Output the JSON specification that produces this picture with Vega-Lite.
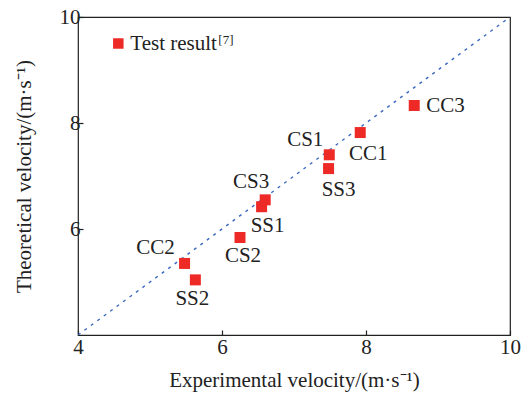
{
  "$schema": "https://vega.github.io/schema/vega-lite/v6.json",
  "width": 432,
  "height": 318,
  "autosize": {"type": "none"},
  "padding": {"left": 78, "top": 17, "right": 21, "bottom": 62},
  "config": {
    "font": "Liberation Serif",
    "view": {"stroke": "#222", "strokeWidth": 1.2},
    "axis": {
      "grid": false,
      "domain": false,
      "tickColor": "#222",
      "tickSize": -5,
      "tickWidth": 1.2,
      "labelFlush": false,
      "labelOverlap": false,
      "format": "d",
      "labelFont": "Liberation Serif",
      "labelFontSize": 21,
      "labelColor": "#222",
      "titleFont": "Liberation Serif",
      "titleFontSize": 21,
      "titleFontWeight": "normal",
      "titleColor": "#222"
    }
  },
  "datasets": {
    "pts": [
      {"label": "CC3", "exp": 8.67, "theo": 8.33},
      {"label": "CC1", "exp": 7.92, "theo": 7.82},
      {"label": "CS1", "exp": 7.49, "theo": 7.40},
      {"label": "SS3", "exp": 7.48, "theo": 7.14},
      {"label": "CS3", "exp": 6.60, "theo": 6.55},
      {"label": "SS1", "exp": 6.55, "theo": 6.42},
      {"label": "CS2", "exp": 6.25, "theo": 5.84},
      {"label": "CC2", "exp": 5.48, "theo": 5.35},
      {"label": "SS2", "exp": 5.63, "theo": 5.04}
    ],
    "diag": [{"exp": 4, "theo": 4}, {"exp": 10, "theo": 10}],
    "leg": [{"exp": 4.56, "theo": 9.5, "name": "Test result", "ref": "[7]"}]
  },
  "layer": [
    {
      "data": {"name": "diag"},
      "mark": {"type": "line", "color": "#3a68c0", "strokeWidth": 1.4, "strokeDash": [3, 5], "clip": true},
      "encoding": {
        "x": {"field": "exp", "type": "quantitative", "scale": {"domain": [4, 10], "nice": false}, "axis": {"values": [4, 6, 8, 10], "title": "Experimental velocity/(m·s⁻¹)", "labelPadding": 6, "titlePadding": 12}},
        "y": {"field": "theo", "type": "quantitative", "scale": {"domain": [4, 10], "nice": false}, "axis": {"values": [6, 8, 10], "title": "Theoretical velocity/(m·s⁻¹)", "labelPadding": 3, "titlePadding": 25}}
      }
    },
    {
      "data": {"name": "pts"},
      "mark": {"type": "square", "color": "#ee2a27", "opacity": 1, "size": 121, "filled": true},
      "encoding": {
        "x": {"field": "exp", "type": "quantitative"},
        "y": {"field": "theo", "type": "quantitative"}
      }
    },
    {
      "data": {"name": "pts"},
      "transform": [{"filter": "datum.label == 'CC3'"}],
      "mark": {"type": "text", "fontSize": 21, "color": "#222", "align": "left", "baseline": "middle", "dx": 12},
      "encoding": {"x": {"field": "exp", "type": "quantitative"}, "y": {"field": "theo", "type": "quantitative"}, "text": {"field": "label"}}
    },
    {
      "data": {"name": "pts"},
      "transform": [{"filter": "datum.label == 'CC1'"}],
      "mark": {"type": "text", "fontSize": 21, "color": "#222", "align": "center", "baseline": "middle", "dx": 8, "dy": 21},
      "encoding": {"x": {"field": "exp", "type": "quantitative"}, "y": {"field": "theo", "type": "quantitative"}, "text": {"field": "label"}}
    },
    {
      "data": {"name": "pts"},
      "transform": [{"filter": "datum.label == 'SS3'"}],
      "mark": {"type": "text", "fontSize": 21, "color": "#222", "align": "center", "baseline": "middle", "dx": 10, "dy": 21},
      "encoding": {"x": {"field": "exp", "type": "quantitative"}, "y": {"field": "theo", "type": "quantitative"}, "text": {"field": "label"}}
    },
    {
      "data": {"name": "pts"},
      "transform": [{"filter": "datum.label == 'SS1'"}],
      "mark": {"type": "text", "fontSize": 21, "color": "#222", "align": "center", "baseline": "middle", "dx": 6, "dy": 19},
      "encoding": {"x": {"field": "exp", "type": "quantitative"}, "y": {"field": "theo", "type": "quantitative"}, "text": {"field": "label"}}
    },
    {
      "data": {"name": "pts"},
      "transform": [{"filter": "datum.label == 'CS2'"}],
      "mark": {"type": "text", "fontSize": 21, "color": "#222", "align": "center", "baseline": "middle", "dx": 3, "dy": 19},
      "encoding": {"x": {"field": "exp", "type": "quantitative"}, "y": {"field": "theo", "type": "quantitative"}, "text": {"field": "label"}}
    },
    {
      "data": {"name": "pts"},
      "transform": [{"filter": "datum.label == 'SS2'"}],
      "mark": {"type": "text", "fontSize": 21, "color": "#222", "align": "center", "baseline": "middle", "dx": -3, "dy": 19},
      "encoding": {"x": {"field": "exp", "type": "quantitative"}, "y": {"field": "theo", "type": "quantitative"}, "text": {"field": "label"}}
    },
    {
      "data": {"name": "pts"},
      "transform": [{"filter": "datum.label == 'CS1'"}],
      "mark": {"type": "text", "fontSize": 21, "color": "#222", "align": "center", "baseline": "middle", "dx": -24, "dy": -15},
      "encoding": {"x": {"field": "exp", "type": "quantitative"}, "y": {"field": "theo", "type": "quantitative"}, "text": {"field": "label"}}
    },
    {
      "data": {"name": "pts"},
      "transform": [{"filter": "datum.label == 'CS3'"}],
      "mark": {"type": "text", "fontSize": 21, "color": "#222", "align": "center", "baseline": "middle", "dx": -14, "dy": -18},
      "encoding": {"x": {"field": "exp", "type": "quantitative"}, "y": {"field": "theo", "type": "quantitative"}, "text": {"field": "label"}}
    },
    {
      "data": {"name": "pts"},
      "transform": [{"filter": "datum.label == 'CC2'"}],
      "mark": {"type": "text", "fontSize": 21, "color": "#222", "align": "center", "baseline": "middle", "dx": -29, "dy": -15},
      "encoding": {"x": {"field": "exp", "type": "quantitative"}, "y": {"field": "theo", "type": "quantitative"}, "text": {"field": "label"}}
    },
    {
      "data": {"name": "leg"},
      "mark": {"type": "square", "color": "#ee2a27", "opacity": 1, "size": 110, "filled": true},
      "encoding": {"x": {"field": "exp", "type": "quantitative"}, "y": {"field": "theo", "type": "quantitative"}}
    },
    {
      "data": {"name": "leg"},
      "mark": {"type": "text", "fontSize": 21, "color": "#222", "align": "left", "baseline": "middle", "dx": 12},
      "encoding": {"x": {"field": "exp", "type": "quantitative"}, "y": {"field": "theo", "type": "quantitative"}, "text": {"field": "name"}}
    },
    {
      "data": {"name": "leg"},
      "mark": {"type": "text", "fontSize": 13, "color": "#222", "align": "left", "baseline": "middle", "dx": 100, "dy": -4},
      "encoding": {"x": {"field": "exp", "type": "quantitative"}, "y": {"field": "theo", "type": "quantitative"}, "text": {"field": "ref"}}
    }
  ]
}
